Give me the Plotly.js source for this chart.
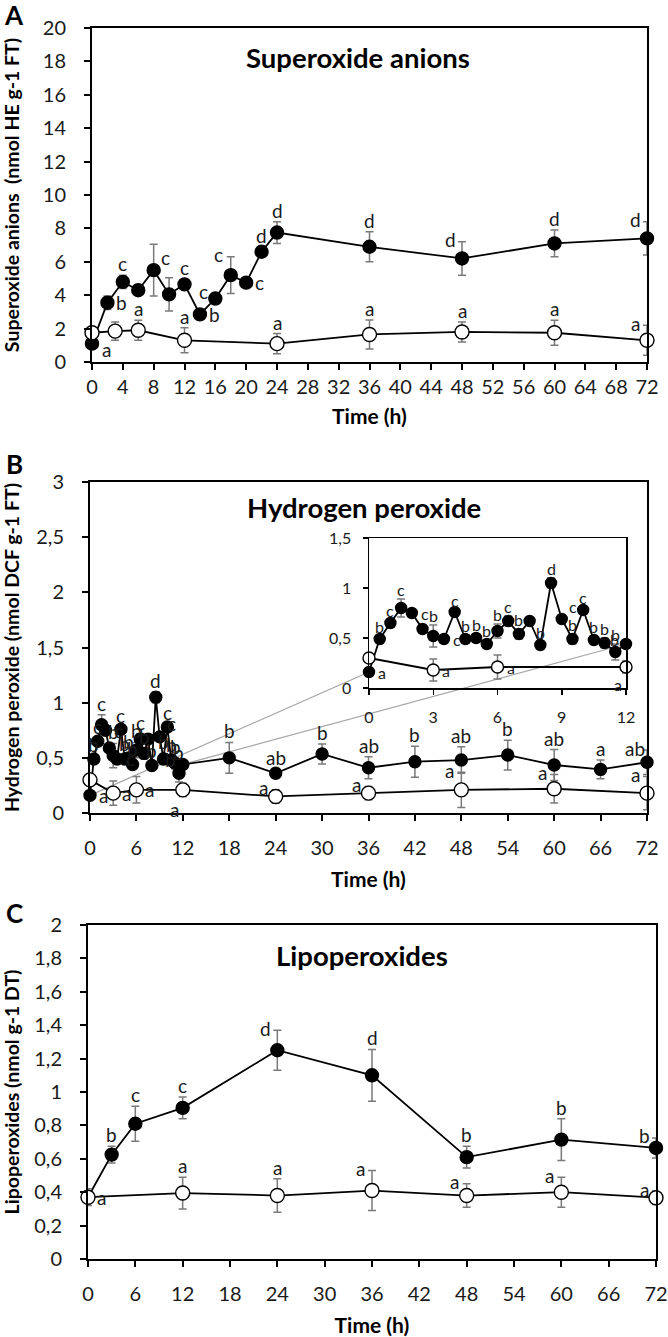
<!DOCTYPE html>
<html>
<head>
<meta charset="utf-8">
<script src="https://cdn.plot.ly/plotly-3.0.1.min.js"></script>
<style>html,body{margin:0;padding:0;background:#fff;}#chart{width:668px;height:1337px;}</style>
</head>
<body>
<div id="chart"></div>
<script>
// ---------------- DATA ----------------
// Panel A: superoxide anions
const supTimeTreated = [0,2,4,6,8,10,12,14,16,18,20,22,24,36,48,60,72];
const supTreated = [1.1,3.55,4.8,4.3,5.5,4.05,4.65,2.85,3.8,5.2,4.75,6.6,7.75,6.9,6.2,7.1,7.4];
const supTreatedErr = [0.2,0.4,0.4,0.3,1.55,1.0,0.3,0.2,0.3,1.1,0.2,0.3,0.65,0.9,1.0,0.8,1.0];
const supTreatedLetters = ['a','b','c','','c','','c','b','c','c','c','d','d','d','d','d','d'];
const supTimeControl = [0,3,6,12,24,36,48,60,72];
const supControl = [1.75,1.85,1.9,1.3,1.1,1.65,1.8,1.75,1.3];
const supControlErr = [0.2,0.55,0.6,0.75,0.6,0.87,0.6,0.75,0.9];
const supControlLetters = ['','','a','a','a','a','a','a','a'];

// Panel B: hydrogen peroxide
const h2oTimeEarly = [0,0.5,1,1.5,2,2.5,3,3.5,4,4.5,5,5.5,6,6.5,7,7.5,8,8.5,9,9.5,10,10.5,11,11.5,12];
const h2oTreatedEarly = [0.16,0.49,0.65,0.80,0.75,0.59,0.52,0.49,0.76,0.49,0.50,0.44,0.57,0.67,0.54,0.67,0.43,1.05,0.69,0.49,0.78,0.48,0.45,0.36,0.44];
const h2oTreatedEarlyErr = [0.02,0.03,0.03,0.09,0.02,0.02,0.11,0.04,0.02,0.04,0.04,0.04,0.07,0.05,0.05,0.03,0.03,0.05,0.03,0.05,0.03,0.04,0.05,0.08,0.03];
const h2oTreatedEarlyLetters = ['a','b','c','c','c','','b','c','c','b','b','b','b','c','b','','b','d','c','b','c','b','b','b','b'];
const h2oTimeLate = [18,24,30,36,42,48,54,60,66,72];
const h2oTreatedLate = [0.50,0.36,0.535,0.41,0.465,0.48,0.525,0.435,0.395,0.46];
const h2oTreatedLateErr = [0.14,0.04,0.09,0.10,0.14,0.12,0.135,0.14,0.085,0.11];
const h2oTreatedLateLetters = ['b','ab','b','ab','b','ab','b','ab','a','ab'];
const h2oTimeControl = [0,3,6,12,24,36,48,60,72];
const h2oControl = [0.30,0.18,0.21,0.21,0.15,0.18,0.21,0.22,0.18];
const h2oControlErr = [0.03,0.11,0.12,0.06,0.06,0.06,0.16,0.13,0.15];
const h2oControlLetters = ['','a','a','a','a','a','a','a','a'];

// Panel C: lipoperoxides
const lipoTimeTreated = [0,3,6,12,24,36,48,60,72];
const lipoTreated = [0.37,0.625,0.81,0.905,1.25,1.10,0.61,0.715,0.665];
const lipoTreatedErr = [0.03,0.05,0.105,0.065,0.12,0.155,0.065,0.125,0.06];
const lipoTreatedLetters = ['','b','c','c','d','d','b','b','b'];
const lipoTimeControl = [0,12,24,36,48,60,72];
const lipoControl = [0.37,0.395,0.38,0.41,0.38,0.40,0.367];
const lipoControlErr = [0.05,0.095,0.10,0.12,0.07,0.09,0.04];
const lipoControlLetters = ['a','a','a','a','a','a','a'];

// ---------------- STYLE / PLACEMENT ----------------
const FONT = "Lato, 'Open Sans', sans-serif";
const TXT = '#1a1a1a';
const ERRC = '#7a7a7a';
const place = {
  supTreated: ['BR','R','T','','TR','','T','R','TL','TL','R','T','T','T','TL','T','TL'],
  supControl: ['','','T','T','T','T','T','T','TL'],
  h2oEarly: ['R','T','T','T','R','','T','R','T','T','T','T','T','T','T','','T','T','TR','T','T','T','T','T','TL'],
  h2oLate: ['T','T','T','T','T','T','T','T','T','TL'],
  h2oControl: ['','R','R','B','TL','TL','TL','TL','TL'],
  lipoTreated: ['','T','T','T','TL','T','T','T','TL'],
  lipoControl: ['R','T','T','TL','TL','TL','TL']
};
const H = 1337, W = 668;
const dx = (a,b) => [a/W, b/W];
const dy = (top,bottom) => [1-bottom/H, 1-top/H];

function letterAnns(xs, ys, es, letters, pos, xref, yref, fs) {
  const out = [];
  for (let i = 0; i < xs.length; i++) {
    const t = letters[i]; const p = pos[i];
    if (!t || !p) continue;
    const a = {x: xs[i], y: ys[i], xref, yref, text: t, showarrow: false,
      font: {family: FONT, size: fs, color: TXT}, xanchor: 'center', yanchor: 'middle'};
    if (p === 'T') { a.y = ys[i] + es[i]; a.yanchor = 'bottom'; a.yshift = -2; }
    else if (p === 'TL') { a.y = ys[i] + es[i]; a.xshift = -12; a.yshift = 2; }
    else if (p === 'R') { a.xanchor = 'left'; a.xshift = 7; }
    else if (p === 'TR') { a.xanchor = 'left'; a.xshift = 5; a.yshift = 13; }
    else if (p === 'BR') { a.xanchor = 'left'; a.xshift = 8; a.yshift = -6; }
    else if (p === 'B') { a.y = ys[i] - es[i]; a.yanchor = 'top'; a.xshift = -8; }
    out.push(a);
  }
  return out;
}

function series(x, y, e, xa, ya, filled, size) {
  return {
    x, y, xaxis: xa, yaxis: ya, type: 'scatter', mode: 'lines+markers', cliponaxis: false,
    line: {color: '#000', width: 1.8},
    marker: {size, color: filled ? '#000' : '#fff', line: {color: '#000', width: 1.4}},
    error_y: {type: 'data', array: e, visible: true, color: ERRC, thickness: 1.5, width: 4},
    showlegend: false, hoverinfo: 'x+y'
  };
}

const h2oTimeAll = h2oTimeEarly.concat(h2oTimeLate);
const h2oTreatedAll = h2oTreatedEarly.concat(h2oTreatedLate);
const h2oTreatedAllErr = h2oTreatedEarlyErr.concat(h2oTreatedLateErr);
const nIns = h2oTimeControl.filter(t => t <= 12).length;

const traces = [
  series(supTimeTreated, supTreated, supTreatedErr, 'x', 'y', true, 13),
  series(supTimeControl, supControl, supControlErr, 'x', 'y', false, 14),
  series(h2oTimeAll, h2oTreatedAll, h2oTreatedAllErr, 'x2', 'y2', true, 12),
  series(h2oTimeControl, h2oControl, h2oControlErr, 'x2', 'y2', false, 14),
  series(h2oTimeEarly, h2oTreatedEarly, h2oTreatedEarlyErr, 'x3', 'y3', true, 11),
  series(h2oTimeControl.slice(0, nIns), h2oControl.slice(0, nIns), h2oControlErr.slice(0, nIns), 'x3', 'y3', false, 12),
  series(lipoTimeTreated, lipoTreated, lipoTreatedErr, 'x4', 'y4', true, 13),
  series(lipoTimeControl, lipoControl, lipoControlErr, 'x4', 'y4', false, 14)
];

function axis(extra) {
  return Object.assign({
    showline: true, linecolor: '#000', linewidth: 2, mirror: true,
    ticks: 'outside', ticklen: 6, tickwidth: 2, tickcolor: '#000',
    showgrid: false, zeroline: false, fixedrange: true,
    tickfont: {family: FONT, size: 20, color: TXT}
  }, extra);
}
const titleFont = {family: FONT, size: 21, color: '#000', weight: 'bold'};
const yTitleFont = {family: FONT, size: 19.5, color: '#000', weight: 'bold'};

const layout = {
  width: W, height: H, margin: {l: 0, r: 0, t: 0, b: 0},
  paper_bgcolor: '#fff', plot_bgcolor: 'rgba(0,0,0,0)',
  separators: ', ', font: {family: FONT, color: TXT},
  xaxis: axis({domain: dx(92, 647), anchor: 'y', range: [0, 72], tick0: 0, dtick: 4,
    title: {text: '<b>Time (h)</b>', font: titleFont, standoff: 12}}),
  yaxis: axis({domain: dy(28, 362), anchor: 'x', range: [0, 20], tick0: 0, dtick: 2, ticklabelstandoff: 14,
    title: {text: '<b>Superoxide anions  (nmol HE g-1 FT)</b>', font: yTitleFont, standoff: 22}}),
  xaxis2: axis({domain: dx(90, 647), anchor: 'y2', range: [0, 72], tick0: 0, dtick: 6, ticklabelstandoff: 10,
    title: {text: '<b>Time (h)</b>', font: titleFont, standoff: 14}}),
  yaxis2: axis({domain: dy(482, 813), anchor: 'x2', range: [0, 3], tick0: 0, dtick: 0.5, ticklabelstandoff: 14,
    title: {text: '<b>Hydrogen peroxide (nmol DCF g-1 FT)</b>', font: yTitleFont, standoff: 14}}),
  xaxis3: axis({domain: dx(369, 626), anchor: 'y3', range: [0, 12], tick0: 0, dtick: 3, linewidth: 1.5, tickwidth: 1.5, ticklen: 5,
    ticklabelstandoff: 9, tickfont: {family: FONT, size: 16, color: TXT}}),
  yaxis3: axis({domain: dy(538, 688), anchor: 'x3', range: [0, 1.5], tick0: 0, dtick: 0.5, linewidth: 1.5, tickwidth: 1.5, ticklen: 5,
    ticklabelstandoff: 8, tickfont: {family: FONT, size: 16, color: TXT}}),
  xaxis4: axis({domain: dx(88, 656), anchor: 'y4', range: [0, 72], tick0: 0, dtick: 6, ticklabelstandoff: 10,
    title: {text: '<b>Time (h)</b>', font: titleFont, standoff: 14}}),
  yaxis4: axis({domain: dy(925, 1259), anchor: 'x4', range: [0, 2], tick0: 0, dtick: 0.2, ticklabelstandoff: 14,
    title: {text: '<b>Lipoperoxides (nmol g-1 DT)</b>', font: yTitleFont, standoff: 12}}),
  annotations: [],
  shapes: []
};

// panel titles and letters
const ann = layout.annotations;
function paperText(text, x, y, size) {
  ann.push({text: '<b>' + text + '</b>', x: x / W, y: 1 - y / H, xref: 'paper', yref: 'paper',
    showarrow: false, xanchor: 'center', yanchor: 'middle', font: {family: FONT, size, color: '#000'}});
}
paperText('Superoxide anions', 358, 57, 27.5);
paperText('Hydrogen peroxide', 364, 508, 27.5);
paperText('Lipoperoxides', 362, 955, 27.5);
paperText('A', 14, 15, 26);
paperText('B', 14, 464, 26);
paperText('C', 14, 913, 26);

// significance letters
const LF = 19, LFI = 16;
ann.push(...letterAnns(supTimeTreated, supTreated, supTreatedErr, supTreatedLetters, place.supTreated, 'x', 'y', LF));
ann.push(...letterAnns(supTimeControl, supControl, supControlErr, supControlLetters, place.supControl, 'x', 'y', LF));
ann.push(...letterAnns(h2oTimeEarly, h2oTreatedEarly, h2oTreatedEarlyErr, h2oTreatedEarlyLetters, place.h2oEarly, 'x2', 'y2', LF));
ann.push(...letterAnns(h2oTimeLate, h2oTreatedLate, h2oTreatedLateErr, h2oTreatedLateLetters, place.h2oLate, 'x2', 'y2', LF));
ann.push(...letterAnns(h2oTimeControl, h2oControl, h2oControlErr, h2oControlLetters, place.h2oControl, 'x2', 'y2', LF));
ann.push(...letterAnns(h2oTimeEarly, h2oTreatedEarly, h2oTreatedEarlyErr, h2oTreatedEarlyLetters, place.h2oEarly, 'x3', 'y3', LFI));
ann.push(...letterAnns(h2oTimeControl.slice(0, nIns), h2oControl.slice(0, nIns), h2oControlErr.slice(0, nIns),
  h2oControlLetters.slice(0, nIns), place.h2oControl.slice(0, nIns), 'x3', 'y3', LFI));
ann.push(...letterAnns(lipoTimeTreated, lipoTreated, lipoTreatedErr, lipoTreatedLetters, place.lipoTreated, 'x4', 'y4', LF));
ann.push(...letterAnns(lipoTimeControl, lipoControl, lipoControlErr, lipoControlLetters, place.lipoControl, 'x4', 'y4', LF));

// grey zoom lines from main panel B to inset (computed from axes)
function px(ax, v) { return ax.domain[0] + (v - ax.range[0]) / (ax.range[1] - ax.range[0]) * (ax.domain[1] - ax.domain[0]); }
function zoomLine(t, v) {
  layout.shapes.push({type: 'line', xref: 'paper', yref: 'paper', layer: 'below',
    x0: px(layout.xaxis2, t), y0: px(layout.yaxis2, v), x1: px(layout.xaxis3, t), y1: px(layout.yaxis3, v),
    line: {color: '#a6a6a6', width: 1.2}});
}
zoomLine(h2oTimeEarly[0], h2oTreatedEarly[0]);
zoomLine(h2oTimeEarly[h2oTimeEarly.length - 1], h2oTreatedEarly[h2oTreatedEarly.length - 1]);

Plotly.newPlot('chart', traces, layout, {staticPlot: true, displayModeBar: false});
</script>
</body>
</html>
